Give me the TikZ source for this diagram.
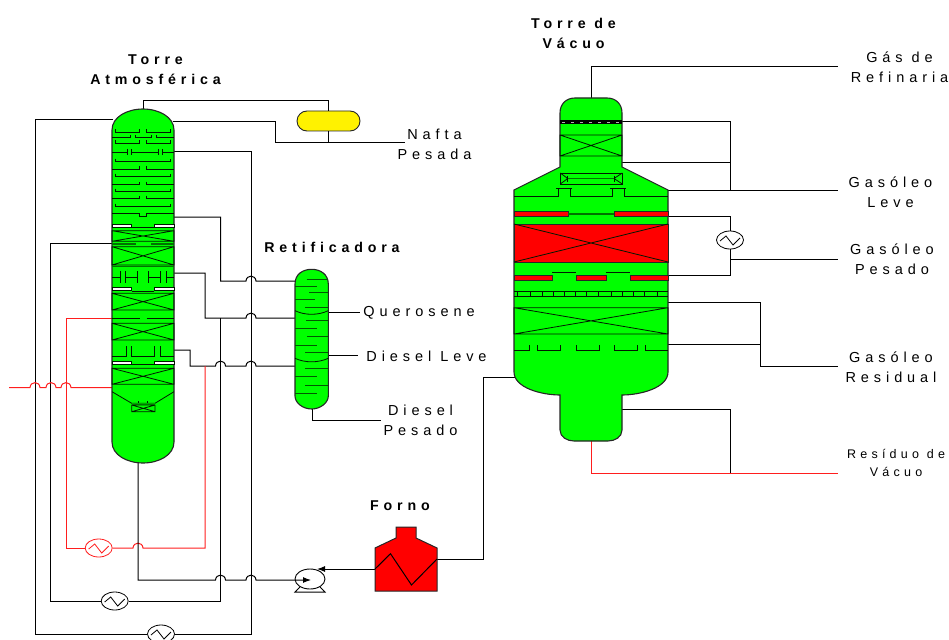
\documentclass[tikz,border=0pt]{standalone}
\usepackage{amsmath}
\usepackage{xcolor}
\usepackage{fontspec}
\usepackage{tikz}
\usetikzlibrary{arrows.meta,shapes.geometric,shapes.misc}
\newfontfamily\lblfont[LetterSpace=34]{Liberation Sans}
\newcommand{\hophere}[2]{-- (#1-5,#2) .. controls (#1-4.5,#2-6.5) and (#1+4.5,#2-6.5) .. (#1+5,#2)}
\newcommand{\packbox}[4]{\draw[inner] (#1,#2) rectangle (#3,#4) (#1,#2) -- (#3,#4) (#1,#4) -- (#3,#2);}
\newcommand{\whitebars}[1]{%
    \draw[inner,fill=white] (112,#1) rectangle (131.7,#1+3);
    \draw[inner,fill=white] (154.3,#1) rectangle (174,#1+3);
    \draw[inner] (131.7,#1+3.5) -- (154.3,#1+3.5);}
\definecolor{linered}{RGB}{255,30,30}
\tikzset{
    pipe/.style={line width=1pt,black},
    redpipe/.style={line width=1pt,draw=linered},
    vessel/.style={draw=black!85,line width=1.1pt,fill=green},
    inner/.style={line width=0.8pt,black!90!green},
    tint/.style={line width=1.2pt,green!45!black},
    redbar/.style={draw=black!85,line width=0.8pt,fill=red},
    exchanger/.style={draw,ellipse,minimum width=27pt,minimum height=18pt,inner sep=0pt,line width=0.8pt,
        path picture={\draw[shift={(path picture bounding box.center)},line width=0.8pt] (-10,1)--(-4,-4)--(3,5)--(10,-2);}},
    lbl/.style={font=\lblfont\fontsize{14.5}{20}\selectfont,align=center,inner sep=0pt},
    ttl/.style={font=\lblfont\bfseries\fontsize{14.2}{20}\selectfont,align=center,inner sep=0pt},
    lblsmall/.style={font=\lblfont\fontsize{12.5}{18}\selectfont,align=center,inner sep=0pt}
}
\begin{document}
\begin{tikzpicture}[x=1pt,y=-1pt,>={Latex[length=8pt,width=6pt]}]
    \useasboundingbox (0,0) rectangle (949,639);

    \coordinate (atmTop) at (143,110);
    \coordinate (atmRefluxIn) at (113,120);
    \coordinate (atmOver) at (173,122);
    \coordinate (atmRefluxOut) at (173,152);
    \coordinate (atmKero) at (173,217);
    \coordinate (atmMidIn) at (113,243);
    \coordinate (atmDiesel) at (173,273);
    \coordinate (atmRedIn) at (113,318);
    \coordinate (atmHeavy) at (173,350);
    \coordinate (atmFeed) at (113,387.5);
    \coordinate (atmBot) at (138,462);
    \coordinate (feedIn) at (9,387.5);
    \coordinate (retKero) at (296,281);
    \coordinate (retDiesel) at (296,318);
    \coordinate (retHeavy) at (296,366);
    \coordinate (retOutQ) at (328,312.5);
    \coordinate (retOutL) at (328,355.3);
    \coordinate (retBot) at (312.7,408);
    \coordinate (endQ) at (360,312.5);
    \coordinate (endL) at (358,355.3);
    \coordinate (endP) at (381,420);
    \coordinate (endNafta) at (405,142.5);
    \coordinate (pumpEye) at (311,580);
    \coordinate (pumpTop) at (317,569);
    \coordinate (coilIn) at (375,569);
    \coordinate (coilOut) at (437,559);
    \coordinate (vacFeed) at (515,377);
    \coordinate (vacTop) at (591,99);
    \coordinate (vacA) at (621,122);
    \coordinate (vacB) at (621,163);
    \coordinate (vacC) at (667,190.5);
    \coordinate (vacD) at (667,216);
    \coordinate (vacE) at (667,275);
    \coordinate (vacF) at (667,302);
    \coordinate (vacG) at (667,344.5);
    \coordinate (vacH) at (621,409);
    \coordinate (vacBot) at (591,440);
    \coordinate (endGas) at (838,66.5);
    \coordinate (endLeve) at (838,190.5);
    \coordinate (endPesado) at (838,259);
    \coordinate (endResidual) at (838,366.3);
    \coordinate (endResiduo) at (838,473.3);

    \node[exchanger] (exchTop) at (161,634) {};
    \node[exchanger] (exchMid) at (114.7,601) {};
    \node[exchanger,draw=linered,path picture={\draw[linered,shift={(path picture bounding box.center)},line width=0.8pt] (-10,1)--(-4,-4)--(3,5)--(10,-2);}] (exchRed) at (98.7,548) {};
    \node[exchanger] (exchVac) at (730,240) {};
    \node[draw=black!85,fill=yellow,rounded rectangle,minimum width=63pt,minimum height=20pt,inner sep=0pt,line width=0.9pt] (drum) at (328.5,121) {};
    \node[draw,ellipse,minimum width=30pt,minimum height=20pt,inner sep=0pt,line width=0.9pt] (pump) at (310,579) {};

    \draw[pipe] (atmTop) -- ++(0,-9.4) -| (drum.north);
    \draw[pipe] (atmOver) -- (275,122) |- (endNafta);
    \draw[pipe] (drum.south) -- (drum.south |- endNafta);
    \draw[pipe] (atmRefluxIn) -- (35,120) |- (exchTop.west);
    \draw[pipe] (exchTop.east) -- (251,634) |- (atmRefluxOut);
    \draw[pipe] (atmMidIn) -- (50.7,243) |- (exchMid.west);
    \draw[pipe] (exchMid.east) -- (220.5,601) -- (220.5,318);
    \draw[pipe] (atmKero) -- (220.5,217) -- (220.5,281) \hophere{251}{281} -- (retKero);
    \draw[pipe] (atmDiesel) -- (205,273) -- (205,318) \hophere{251}{318} -- (retDiesel);
    \draw[pipe] (atmHeavy) -- (190,350) -- (190,366) \hophere{220.5}{366} \hophere{251}{366} -- (retHeavy);
    \draw[redpipe] (exchRed.east) \hophere{138}{548} -- (205,548) -- (205,366);
    \draw[redpipe] (exchRed.west) -- (66,548) |- (atmRedIn);
    \draw[redpipe] (feedIn) \hophere{35}{387.5} \hophere{51}{387.5} \hophere{66}{387.5} -- (atmFeed);
    \draw[pipe,->] (atmBot) -- (138,580) \hophere{220.5}{580} \hophere{251}{580} -- (pumpEye);
    \draw[pipe,->] (coilIn) -- (pumpTop);
    \draw[pipe] (300,587) -- (295,592) -- (325,592) -- (320,587);
    \draw[pipe] (retOutQ) -- (endQ);
    \draw[pipe] (retOutL) -- (endL);
    \draw[pipe] (retBot) |- (endP);
    \draw[pipe] (coilOut) -- (483,559) |- (vacFeed);
    \draw[pipe] (vacTop) |- (endGas);
    \draw[pipe] (vacA) -| (730,190.5);
    \draw[pipe] (vacB) -- (730,163);
    \draw[pipe] (vacC) -- (endLeve);
    \draw[pipe] (vacD) -| (exchVac.north);
    \draw[pipe] (vacE) -| (exchVac.south);
    \draw[pipe] (exchVac.south |- endPesado) -- (endPesado);
    \draw[pipe] (vacF) -| (760.7,366.3) -- (endResidual);
    \draw[pipe] (vacG) -- (760.7,344.5);
    \draw[pipe] (vacH) -| (730,473.3);
    \draw[redpipe] (vacBot) |- (endResiduo);

    \draw[vessel] (112,130) .. controls (112,117) and (127,109) .. (143,109) .. controls (159,109) and (174,117) .. (174,130) -- (174,442) .. controls (174,455) and (159,463) .. (143,463) .. controls (127,463) and (112,455) .. (112,442) -- cycle;
    \foreach \y in {132.3,143,161.7,176.7,191.7,206.7} {
        \ifdim\y pt<150pt
            \draw[inner] (115.3,\y-3) -- (115.3,\y) -- (139.3,\y) -- (139.3,\y-3);
            \draw[inner] (146.7,\y-3) -- (146.7,\y) -- (170.7,\y) -- (170.7,\y-3);
        \else
            \draw[inner] (115.3,\y-3) -- (115.3,\y) -- (170.7,\y) -- (170.7,\y-3);
        \fi
    }
    \draw[inner] (112,137.7) -- (130,137.7) -- (130,134.7);
    \draw[inner] (135,134.7) -- (135,137.7) -- (151,137.7) -- (151,134.7);
    \draw[inner] (156,134.7) -- (156,137.7) -- (174,137.7);
    \draw[inner] (112,152.3) -- (127.7,152.3) (131.7,152.3) -- (158.3,152.3) (162.3,152.3) -- (174,152.3);
    \draw[inner] (127.7,149) -- (127.7,155.5) (131.7,149) -- (131.7,155.5) (158.3,149) -- (158.3,155.5) (162.3,149) -- (162.3,155.5);
    \foreach \y in {169.3,184.7,198.7} {
        \draw[inner] (112,\y) -- (139.3,\y) -- (139.3,\y-3);
        \draw[inner] (146.7,\y-3) -- (146.7,\y) -- (174,\y);
    }
    \draw[inner] (112,213.7) -- (139.3,213.7) -- (139.3,216.7) -- (146.7,216.7) -- (146.7,213.7) -- (174,213.7);
    \whitebars{224.3}
    \packbox{112}{230.7}{174}{241.3}
    \draw[tint] (112,244) -- (135.7,244) (151,244) -- (174,244);
    \packbox{112}{246.7}{174}{265}
    \draw[tint] (112,266.5) -- (174,266.5);
    \draw[inner] (112,277.3) -- (120,277.3) (125,277.3) -- (137.3,277.3) (148.7,277.3) -- (160.7,277.3) (166.7,277.3) -- (174,277.3);
    \draw[inner] (120,271) -- (120,282.7) (125,271) -- (125,282.7) (137.3,271) -- (137.3,282.7) (148.7,271) -- (148.7,282.7) (160.7,271) -- (160.7,282.7) (166.7,271) -- (166.7,282.7);
    \whitebars{287.7}
    \packbox{112}{293.3}{174}{310}
    \draw[inner] (112,318) -- (140,318) (146.7,318) -- (174,318);
    \packbox{112}{323.3}{174}{340}
    \draw[inner] (112,356.7) -- (126,356.7) -- (126,346) (131.7,346) -- (131.7,356.7) -- (154,356.7) -- (154,346) (160,346) -- (160,356.7) -- (174,356.7);
    \whitebars{361.3}
    \packbox{112}{368.3}{174}{384.3}
    \draw[inner] (112,391.7) -- (131.7,403.3) -- (155,403.3) -- (174,391.7);
    \fill[green!65!black] (131.7,403) rectangle (155,405);
    \packbox{131.7}{405}{155}{411.7}
    \draw[inner] (138,401) -- (138,403) (147,401) -- (147,403);

    \draw[vessel] (295,284) .. controls (295,274) and (303,269.3) .. (311.7,269.3) .. controls (320,269.3) and (328.3,274) .. (328.3,284) -- (328.3,396) .. controls (328.3,403) and (320,409) .. (311.7,409) .. controls (303,409) and (295,403) .. (295,396) -- cycle;
    \foreach \y/\x in {279.3/306.7,292.7/309,307.3/305,320.7/306,336.7/307.3,352.7/305,368.7/305,385/305} {
        \draw[inner,green!35!black] (\x,\y) -- (328.3,\y);
    }
    \foreach \y/\x in {286/316.7,299.3/315,328.7/316.7,345/316.7,376.7/316.7,393/316.7} {
        \draw[inner,green!35!black] (295,\y) -- (\x,\y);
    }
    \draw[inner] (295,310.7) .. controls (305,315.5) and (318,315.5) .. (328.3,310.7);
    \draw[inner] (295,358.3) .. controls (305,363) and (318,363) .. (328.3,358.3);

    \draw[draw=black!85,line width=1pt,fill=red] (396,527) -- (416,527) -- (416,538) -- (437,548) -- (437,591) -- (375,591) -- (375,548) -- (396,538) -- cycle;
    \draw[pipe] (coilIn) -- (390.5,553.7) -- (411.5,585) -- (coilOut);

    \draw[vessel] (560,113) .. controls (560,104) and (566,98) .. (575,98) -- (607,98) .. controls (616,98) and (622,104) .. (622,113) -- (622,167) -- (668,190) -- (668,372) .. controls (668,388) and (640,395) .. (622,395) -- (622,430) .. controls (622,437) and (615,441) .. (608,441) -- (574,441) .. controls (567,441) and (560,437) .. (560,430) -- (560,395) .. controls (542,395) and (514,388) .. (514,372) -- (514,190) -- (560,167) -- cycle;
    \draw[black,line width=4pt] (560,122.3) -- (622,122.3);
    \draw[white!70!black,line width=1pt,dash pattern=on 3pt off 6pt] (562,122.3) -- (622,122.3);
    \packbox{560}{135}{622}{156}
    \draw[inner] (560.3,173) rectangle (622.3,184);
    \draw[inner] (560.3,173) -- (567.7,178.5) -- (560.3,184) (622.3,173) -- (614,178.5) -- (622.3,184);
    \draw[inner] (567.7,175.5) -- (567.7,181.5) (614,175.5) -- (614,181.5);
    \draw[tint] (567.7,178.5) -- (614,178.5);
    \draw[inner] (514,196) -- (558,196) -- (558,188) (570,188) -- (570,196) -- (612,196) -- (612,188) (624,188) -- (624,196) -- (668,196);
    \draw[inner] (556,188) -- (572,188) (610,188) -- (626,188);
    \draw[redbar] (514,211.7) rectangle (568,216.7);
    \draw[redbar] (614,211.7) rectangle (668,216.7);
    \draw[tint] (568,214) -- (614,214);
    \draw[redbar] (514,224) rectangle (668,262);
    \draw[inner] (514,224) -- (668,262) (514,262) -- (668,224);
    \draw[redbar] (514,275) rectangle (552,280.7);
    \draw[redbar] (576,275) rectangle (606,280.7);
    \draw[redbar] (630,275) rectangle (668,280.7);
    \draw[inner] (552,272) -- (576,272) (606,272) -- (630,272);
    \draw[inner] (514,291) -- (668,291) (514,296.7) -- (668,296.7);
    \foreach \x in {517,530,542,553,564,575,586,598,611,622,633,644,657} {
        \draw[inner] (\x,291) -- (\x,296.7);
    }
    \packbox{514}{307.7}{668}{334}
    \draw[inner] (514,350) -- (529,350) -- (529,345) (537,345) -- (537,350) -- (560,350) -- (560,345);
    \draw[inner] (576,345) -- (576,350) -- (599,350) -- (599,345) (614,345) -- (614,350) -- (637,350) -- (637,345) (645,345) -- (645,350) -- (668,350);

    \node[ttl] (titleAtm) at (155.5,70) {Torre\\Atmosférica};
    \node[ttl] (titleVac) at (573.5,33) {Torre de\\Vácuo};
    \node[ttl] (titleRet) at (332,247) {Retificadora};
    \node[ttl] (titleForno) at (400,506) {Forno};
    \node[lbl] (lblNafta) at (434.5,144) {Nafta\\Pesada};
    \node[lbl] (lblQuero) at (419,313) {Querosene};
    \node[lbl] (lblLeve) at (426.5,356) {Diesel Leve};
    \node[lbl] (lblPesado) at (420.5,420) {Diesel\\Pesado};
    \node[lbl] (lblGas) at (899.5,67) {Gás de\\Refinaria};
    \node[lbl] (lblGL) at (890.5,192) {Gasóleo\\Leve};
    \node[lbl] (lblGP) at (892,259) {Gasóleo\\Pesado};
    \node[lbl] (lblGR) at (891,367) {Gasóleo\\Residual};
    \node[lblsmall] (lblRV) at (896,463) {Resíduo de\\Vácuo};
\end{tikzpicture}
\end{document}
